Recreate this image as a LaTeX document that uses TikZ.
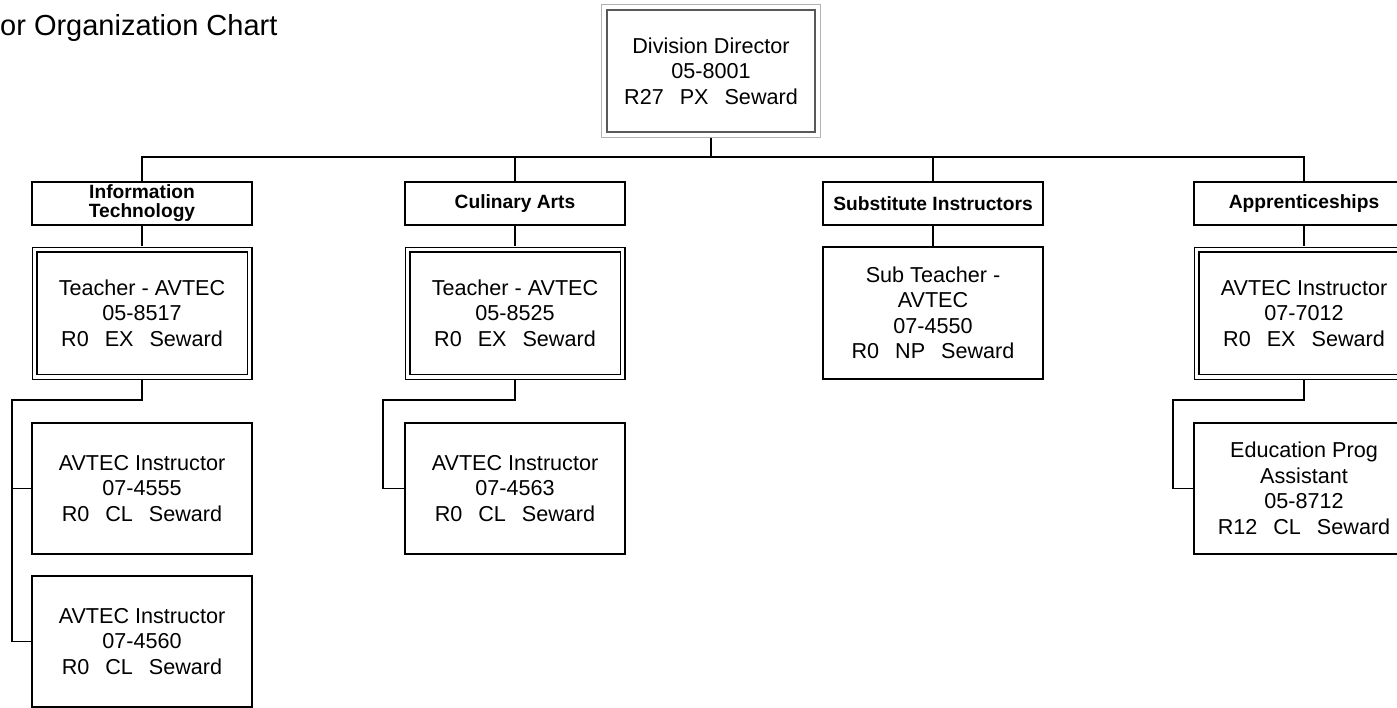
\documentclass[tikz,border=0pt]{standalone}
\usepackage{fontspec}
\setmainfont{Liberation Sans}
\newcommand\gapsp{\hspace{16pt}}
\begin{document}
\begin{tikzpicture}[x=1pt,y=-1pt,
  box/.style={draw, line width=1.3pt, minimum width=220pt, minimum height=131pt, inner sep=0pt, align=center, font=\fontsize{21.6}{25.5}\selectfont},
  dbox/.style={box, double, double distance=3.6pt, line width=1.2pt, minimum width=215pt, minimum height=127.5pt},
  hdr/.style={draw, line width=1.3pt, minimum width=220pt, minimum height=43pt, inner sep=0pt, align=center, font=\fontsize{19.2}{17.5}\selectfont\bfseries},
  conn/.style={line width=1.3pt}]
\useasboundingbox (0,0) rectangle (1397,707);
\node[anchor=base west, inner sep=0pt, font=\fontsize{29}{29}\selectfont] (title) at (0,35) {or Organization Chart};

% director
\node[box, draw=black!65, minimum width=208pt, minimum height=122pt] (dir) at (711,71) {Division Director\\05-8001\\R27\gapsp PX\gapsp Seward};
\draw[gray!60, line width=1.5pt] ([shift={(-5pt,5pt)}]dir.north west) rectangle ([shift={(5pt,-5pt)}]dir.south east);

% headers
\node[hdr] (ithdr) at (142,203.5) {\raisebox{-3pt}{\begin{tabular}{@{}c@{}}Information\\Technology\end{tabular}}};
\node[hdr] (cahdr) at (515,203.5) {Culinary Arts};
\node[hdr] (sihdr) at (933,203.5) {Substitute Instructors};
\node[hdr] (aphdr) at (1304,203.5) {Apprenticeships};

% second row
\node[dbox] (itt) at (142,313.25) {Teacher - AVTEC\\05-8517\\R0\gapsp EX\gapsp Seward};
\node[dbox] (cat) at (515,313.25) {Teacher - AVTEC\\05-8525\\R0\gapsp EX\gapsp Seward};
\node[box, minimum height=132pt] (sit) at (933,313) {Sub Teacher -\\AVTEC\\07-4550\\R0\gapsp NP\gapsp Seward};
\node[dbox] (api) at (1304,313.25) {AVTEC Instructor\\07-7012\\R0\gapsp EX\gapsp Seward};

% lower boxes
\node[box] (it1) at (142,488.5) {AVTEC Instructor\\07-4555\\R0\gapsp CL\gapsp Seward};
\node[box] (it2) at (142,641.5) {AVTEC Instructor\\07-4560\\R0\gapsp CL\gapsp Seward};
\node[box] (ca1) at (515,488.5) {AVTEC Instructor\\07-4563\\R0\gapsp CL\gapsp Seward};
\node[box] (ap1) at (1304,488.5) {Education Prog\\Assistant\\05-8712\\R12\gapsp CL\gapsp Seward};

% connectors
\coordinate (bus) at (0,157);
\draw[conn] ([yshift=-5pt]dir.south) -- (dir.south |- bus);
\draw[conn] (ithdr.north) -- (ithdr.north |- bus) -- (aphdr.north |- bus) -- (aphdr.north);
\draw[conn] (cahdr.north) -- (cahdr.north |- bus);
\draw[conn] (sihdr.north) -- (sihdr.north |- bus);

\draw[conn] (ithdr.south) -- ([yshift=2.5pt]itt.north);
\draw[conn] (cahdr.south) -- ([yshift=2.5pt]cat.north);
\draw[conn] (sihdr.south) -- (sit.north);
\draw[conn] (aphdr.south) -- ([yshift=2.5pt]api.north);

\coordinate (itbr) at (12,400);
\coordinate (cabr) at (383,400);
\coordinate (apbr) at (1173,400);
\draw[conn] ([yshift=-2pt]itt.south) -- (itt.south |- itbr) -- (itbr) |- (it2.west);
\draw[conn] (itbr) |- (it1.west);
\draw[conn] ([yshift=-2pt]cat.south) -- (cat.south |- cabr) -- (cabr) |- (ca1.west);
\draw[conn] ([yshift=-2pt]api.south) -- (api.south |- apbr) -- (apbr) |- (ap1.west);
\end{tikzpicture}
\end{document}
